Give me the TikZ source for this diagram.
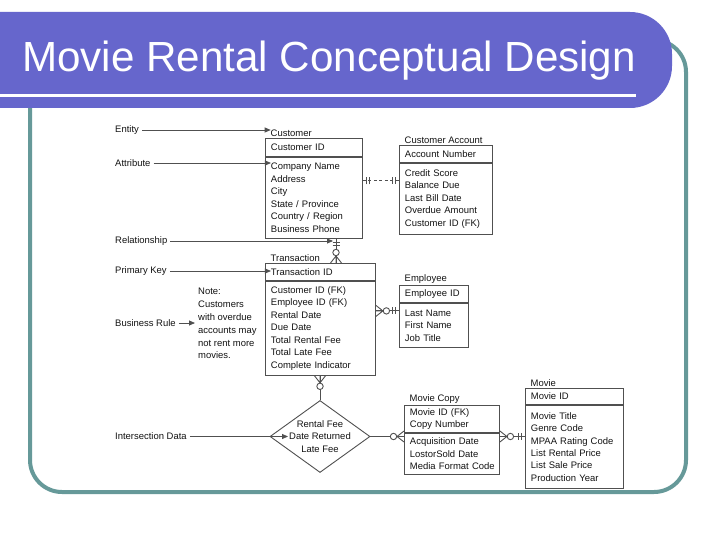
\documentclass[tikz,border=0pt]{standalone}
\usepackage{fontspec}
\setmainfont{Liberation Sans}
\usetikzlibrary{shapes.geometric, arrows.meta, positioning, calc}
\definecolor{band1}{RGB}{102,102,204}
\definecolor{frame1}{RGB}{102,153,153}
\definecolor{line1}{RGB}{80,80,80}
\definecolor{ink1}{RGB}{20,20,20}
\newcommand\erfont{\fontsize{9.5}{12.5}\selectfont}

\tikzset{
  ebox/.style={draw=line1, line width=0.9bp, font=\erfont, text=ink1, text width=#1, align=left, inner xsep=5.5bp, inner ysep=2bp},
  ename/.style={anchor=south west, font=\erfont, text=ink1, inner xsep=5.5bp, inner ysep=1.5bp},
  lbl/.style={anchor=west, font=\erfont, text=ink1, inner xsep=3bp},
  notetxt/.style={anchor=north west, align=left, font=\fontsize{9.5}{13}\selectfont, text=ink1, inner sep=3bp},
  reldia/.style={diamond, draw=line1, line width=0.9bp, minimum width=100bp, minimum height=72bp, inner sep=0pt},
  ptr/.style={draw=line1, line width=0.8bp, -{Triangle[length=6bp,width=5bp]}},
  erline/.style={draw=line1, line width=0.9bp},
  zmany/.pic={
    \draw[erline] (0,-5.5) -- (-7,0) -- (0,5.5) (-7,0) -- (0,0);
    \draw[erline, fill=white] (-10.5,0) circle (3.2bp);
  },
  oneone/.pic={
    \draw[erline] (-4,-3.5) -- (-4,3.5) (-7,-3.5) -- (-7,3.5);
  },
}

\begin{document}
\begin{tikzpicture}[x=1bp, y=-1bp]
  \useasboundingbox (0,0) rectangle (720,540);
  \fill[white] (0,0) rectangle (720,540);

  % slide frame and title band
  \draw[frame1, line width=4bp, rounded corners=32bp] (30,40) rectangle (686,492);
  \fill[band1] (0,12) -- (630,12) arc[start angle=90, end angle=0, radius=42bp]
    -- ++(0,12) arc[start angle=0, end angle=-90, radius=42bp] -- (0,108) -- cycle;
  \draw[white, line width=3bp] (0,96) -- (636,96);
  \node[anchor=base west, text=white, font=\fontsize{42.3}{48}\selectfont, inner sep=0pt] (title) at (22,72) {Movie Rental Conceptual Design};

  % customer
  \node[ebox=86bp, anchor=north west, minimum height=18bp] (custpk) at (265,138) {Customer ID};
  \node[ebox=86bp, below=0pt of custpk, minimum height=81bp] (custat) {Company Name\\Address\\City\\State / Province\\Country / Region\\Business Phone};
  \node[ename] (custname) at (custpk.north west) {Customer};

  % customer account
  \node[ebox=82bp, anchor=north west, minimum height=17bp] (capk) at (399,145) {Account Number};
  \node[ebox=82bp, below=0pt of capk, minimum height=71bp] (caat) {Credit Score\\Balance Due\\Last Bill Date\\Overdue Amount\\Customer ID (FK)};
  \node[ename] (caname) at (capk.north west) {Customer Account};

  % transaction
  \node[ebox=99bp, anchor=north west, minimum height=17bp] (trpk) at (265,263) {Transaction ID};
  \node[ebox=99bp, below=0pt of trpk, minimum height=94bp] (trat) {Customer ID (FK)\\Employee ID (FK)\\Rental Date\\Due Date\\Total Rental Fee\\Total Late Fee\\Complete Indicator};
  \node[ename] (trname) at (trpk.north west) {Transaction};

  % employee
  \node[ebox=58bp, anchor=north west, minimum height=17bp] (empk) at (399,285) {Employee ID};
  \node[ebox=58bp, below=0pt of empk, minimum height=44bp] (emat) {Last Name\\First Name\\Job Title};
  \node[ename] (emname) at (empk.north west) {Employee};

  % movie copy
  \node[ebox=84bp, anchor=north west, minimum height=27bp] (mcpk) at (404,405) {Movie ID (FK)\\Copy Number};
  \node[ebox=84bp, below=0pt of mcpk, minimum height=41bp] (mcat) {Acquisition Date\\LostorSold Date\\\mbox{Media Format Code}};
  \node[ename] (mcname) at (mcpk.north west) {Movie Copy};

  % movie
  \node[ebox=87bp, anchor=north west, minimum height=16bp] (mvpk) at (525,388) {Movie ID};
  \node[ebox=87bp, below=0pt of mvpk, minimum height=83bp] (mvat) {Movie Title\\Genre Code\\\mbox{MPAA Rating Code}\\List Rental Price\\List Sale Price\\Production Year};
  \node[ename] (mvname) at (mvpk.north west) {Movie};

  % rental relationship
  \node[reldia] (dia) at (320,436.5) {};
  \node[align=center, font=\erfont, text=ink1, inner sep=1bp] (diatxt) at (dia.center) {Rental Fee\\Date Returned\\Late Fee};

  % legend
  \node[lbl] (lbent) at (112,130) {Entity};
  \node[lbl] (lbattr) at (112,163) {Attribute};
  \node[lbl] (lbrel) at (112,241) {Relationship};
  \node[lbl] (lbpk) at (112,271) {Primary Key};
  \node[lbl] (lbbr) at (112,323) {Business Rule};
  \node[lbl] (lbint) at (112,436.5) {Intersection Data};
  \node[notetxt] (note) at (195,284.5) {Note:\\Customers\\with overdue\\accounts may\\not rent more\\movies.};

  % relationships
  \coordinate (ctTop) at ($(custat.south west)+(71,0)$);
  \draw[erline] (ctTop) -- (ctTop |- trpk.north);
  \path (ctTop) pic[rotate=90] {oneone};
  \path (ctTop |- trpk.north) pic[rotate=-90] {zmany};

  \coordinate (caY) at ($(caat.north west)+(0,18)$);
  \draw[erline, dash pattern=on 3bp off 2.5bp] (caY -| custat.east) -- (caY);
  \path (caY -| custat.east) pic[rotate=180] {oneone};
  \path (caY) pic {oneone};

  \coordinate (teY) at ($(emat.north west)+(0,8)$);
  \draw[erline] (teY -| trat.east) -- (teY);
  \path (teY -| trat.east) pic[rotate=180] {zmany};
  \path (teY) pic {oneone};

  \draw[erline] (dia.north) -- (dia.north |- trat.south);
  \path (dia.north |- trat.south) pic[rotate=90] {zmany};

  \draw[erline] (dia.east) -- (dia.east -| mcat.west);
  \path (dia.east -| mcat.west) pic {zmany};

  \draw[erline] (dia.east -| mcat.east) -- (dia.east -| mvat.west);
  \path (dia.east -| mcat.east) pic[rotate=180] {zmany};
  \path (dia.east -| mvat.west) pic {oneone};

  % legend pointers
  \draw[ptr] (lbent.east) -- (lbent.east -| custname.text);
  \draw[ptr] (lbattr.east) -- (lbattr.east -| custat.text);
  \draw[ptr, shorten >=3bp] (lbrel.east) -- (lbrel.east -| ctTop);
  \draw[ptr] (lbpk.east) -- (lbpk.east -| trpk.text);
  \draw[ptr] (lbbr.east) -- (lbbr.east -| note.west);
  \draw[ptr] (lbint.east) -- (lbint.east -| diatxt.west);
\end{tikzpicture}
\end{document}
